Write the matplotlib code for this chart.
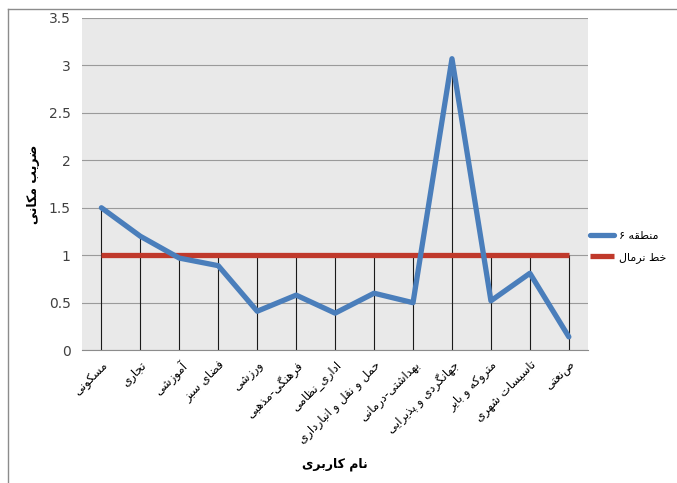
import numpy as np
import matplotlib
matplotlib.use("Agg")
import matplotlib.pyplot as plt
from matplotlib.lines import Line2D


plt.rcParams.update({
    "font.family": ["DejaVu Sans"],
    "font.size": 9,
})


# land-use categories (Persian), spatial coefficient for zone 6, normal line
categories = [
    "مسکونی", "تجاری", "آموزشی", "فضای سبز", "ورزشی", "فرهنگی-مذهبی",
    "اداری_نظامی", "حمل و نقل و انبارداری", "بهداشتی-درمانی",
    "جهانگردی و پذیرایی", "متروکه و بایر", "تاسیسات شهری", "صنعتی",
]
zone6 = [1.5, 1.2, 0.97, 0.89, 0.41, 0.58, 0.39, 0.60, 0.50, 3.07, 0.52, 0.81, 0.14]
normal = [1.0] * len(categories)

y_ticks = [0, 0.5, 1, 1.5, 2, 2.5, 3, 3.5]
y_label = "ضریب مکانی"
x_label = "نام کاربری"
series_names = ["منطقه ۶", "خط نرمال"]


# contextual forms: isolated, final, initial, medial (None = no joining to the left)
FORMS = {
    "ا": ("\uFE8D", "\uFE8E", None, None),
    "آ": ("\uFE81", "\uFE82", None, None),
    "ب": ("\uFE8F", "\uFE90", "\uFE91", "\uFE92"),
    "پ": ("\uFB56", "\uFB57", "\uFB58", "\uFB59"),
    "ت": ("\uFE95", "\uFE96", "\uFE97", "\uFE98"),
    "ج": ("\uFE9D", "\uFE9E", "\uFE9F", "\uFEA0"),
    "ح": ("\uFEA1", "\uFEA2", "\uFEA3", "\uFEA4"),
    "خ": ("\uFEA5", "\uFEA6", "\uFEA7", "\uFEA8"),
    "د": ("\uFEA9", "\uFEAA", None, None),
    "ذ": ("\uFEAB", "\uFEAC", None, None),
    "ر": ("\uFEAD", "\uFEAE", None, None),
    "ز": ("\uFEAF", "\uFEB0", None, None),
    "س": ("\uFEB1", "\uFEB2", "\uFEB3", "\uFEB4"),
    "ش": ("\uFEB5", "\uFEB6", "\uFEB7", "\uFEB8"),
    "ض": ("\uFEBD", "\uFEBE", "\uFEBF", "\uFEC0"),
    "ط": ("\uFEC1", "\uFEC2", "\uFEC3", "\uFEC4"),
    "ظ": ("\uFEC5", "\uFEC6", "\uFEC7", "\uFEC8"),
    "ع": ("\uFEC9", "\uFECA", "\uFECB", "\uFECC"),
    "ف": ("\uFED1", "\uFED2", "\uFED3", "\uFED4"),
    "ق": ("\uFED5", "\uFED6", "\uFED7", "\uFED8"),
    "ک": ("\uFB8E", "\uFB8F", "\uFB90", "\uFB91"),
    "گ": ("\uFB92", "\uFB93", "\uFB94", "\uFB95"),
    "ل": ("\uFEDD", "\uFEDE", "\uFEDF", "\uFEE0"),
    "م": ("\uFEE1", "\uFEE2", "\uFEE3", "\uFEE4"),
    "ن": ("\uFEE5", "\uFEE6", "\uFEE7", "\uFEE8"),
    "ه": ("\uFEE9", "\uFEEA", "\uFEEB", "\uFEEC"),
    "و": ("\uFEED", "\uFEEE", None, None),
    "ی": ("\uFBFC", "\uFBFD", "\uFBFE", "\uFBFF"),
}


def shape(text):
    # pick the joined glyph for each letter, then reverse into visual order
    out = []
    n = len(text)
    for i, ch in enumerate(text):
        if ch not in FORMS:
            out.append(ch)
            continue
        prev = text[i - 1] if i > 0 else ""
        nxt = text[i + 1] if i < n - 1 else ""
        join_prev = prev in FORMS and FORMS[prev][2] is not None
        join_next = nxt in FORMS and FORMS[ch][2] is not None
        iso, fin, ini, med = FORMS[ch]
        if join_prev and join_next:
            out.append(med)
        elif join_prev:
            out.append(fin)
        elif join_next:
            out.append(ini)
        else:
            out.append(iso)
    return "".join(reversed(out))


fig = plt.figure(figsize=(6.77, 4.83), dpi=100)
ax = fig.add_axes([0.121, 0.275, 0.748, 0.688])

x = np.arange(len(categories))

ax.set_facecolor("#e9e9e9")
ax.set_xlim(-0.5, len(categories) - 0.5)
ax.set_ylim(0, 3.5)
ax.set_yticks(y_ticks)
ax.set_yticklabels([f"{v:g}" for v in y_ticks])
ax.yaxis.grid(True, color="#9a9a9a", lw=0.8)
ax.set_axisbelow(True)

# drop lines from the higher of the two series down to the axis
tops = np.maximum(zone6, normal)
ax.vlines(x, 0, tops, color="#1a1a1a", lw=0.8, zorder=2)

ax.plot(x, normal, color="#c0392b", lw=3.8, solid_capstyle="butt", zorder=3,
        label=shape(series_names[1]))
ax.plot(x, zone6, color="#4a7ebb", lw=3.8, solid_capstyle="round", zorder=4,
        label=shape(series_names[0]))

ax.set_xticks(x)
ax.set_xticklabels([shape(c) for c in categories], rotation=45,
                   ha="right", rotation_mode="anchor", fontsize=8.5)
ax.tick_params(axis="x", length=0, pad=6)
ax.tick_params(axis="y", length=0, pad=8, labelsize=10, colors="#404040")

for side in ["top", "right", "left"]:
    ax.spines[side].set_visible(False)
ax.spines["bottom"].set_color("#8c8c8c")

ax.set_ylabel(shape(y_label), fontsize=9, fontweight="bold", labelpad=6)
ax.set_xlabel(shape(x_label), fontsize=9, fontweight="bold", labelpad=8)

handles, labels = ax.get_legend_handles_labels()
fig.legend(handles[::-1], labels[::-1], loc="center left",
           bbox_to_anchor=(0.871, 0.488), frameon=False,
           borderpad=0, borderaxespad=0, handlelength=2.2,
           handletextpad=0.4, labelspacing=1.0, fontsize=8)

# thin frame around the chart area
fig.add_artist(Line2D([8 / 677, 1], [1 - 9 / 483, 1 - 9 / 483],
                      transform=fig.transFigure, color="#8c8c8c", lw=1))
fig.add_artist(Line2D([8 / 677, 8 / 677], [0, 1 - 9 / 483],
                      transform=fig.transFigure, color="#8c8c8c", lw=1))

fig.savefig("out.png", dpi=100)
